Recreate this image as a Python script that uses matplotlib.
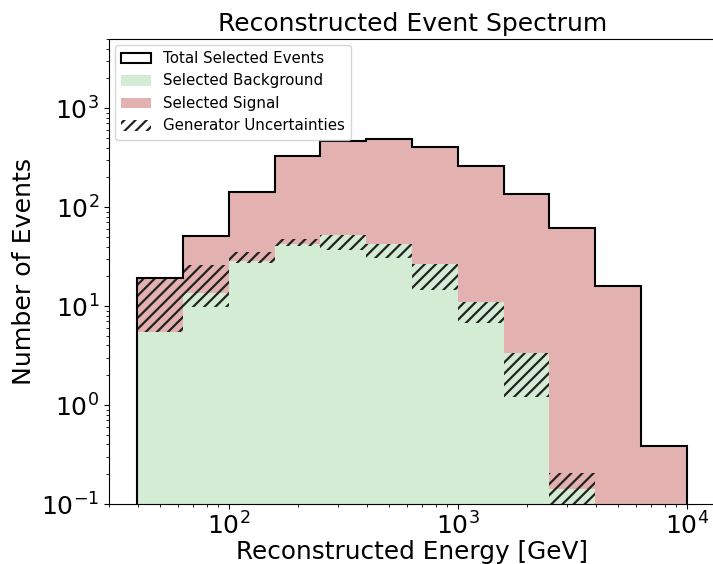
import numpy as np
import matplotlib
matplotlib.use("Agg")
import matplotlib.pyplot as plt
from matplotlib.patches import Patch

plt.rcParams["hatch.linewidth"] = 1.6

# bin edges: 5 log bins per decade from 10^1.6 to 10^4 GeV
edges = 10 ** np.arange(1.6, 4.01, 0.2)

total = [19.2, 51, 142, 327, 464, 483, 404, 261, 135, 61.8, 15.9, 0.385]
background = [5.5, 13.5, 28.7, 42.3, 52, 42, 26.4, 11.0, 3.33, 0.141, 0, 0]
unc_lo = [5.5, 9.8, 27, 40.4, 36.8, 30.5, 14.7, 6.7, 1.21, 0.07, 0, 0]
unc_hi = [19.2, 26, 35.4, 47.2, 52, 42, 26.4, 11.0, 3.33, 0.207, 0, 0]

signal = np.array(total) - np.array(background)

GREEN = "tab:green"
RED = "firebrick"

fig = plt.figure(figsize=(7.13, 5.64), dpi=100)
# axes runs just past the right edge of the canvas
ax = fig.add_axes([109 / 713, 60 / 564, 607 / 713, 465 / 564])

centers = np.sqrt(edges[:-1] * edges[1:])
widths = np.diff(edges)

# outline of all selected events first, fills sit on top of it
ax.hist(centers, bins=edges, weights=total, histtype="step",
        color="black", linewidth=1.5)
ax.hist(centers, bins=edges, weights=background, histtype="stepfilled",
        color=GREEN, alpha=0.2)
ax.hist(centers, bins=edges, weights=signal, bottom=background,
        histtype="stepfilled", color=RED, alpha=0.35)

# generator uncertainty band on the background
ax.bar(edges[:-1], np.array(unc_hi) - np.array(unc_lo), bottom=unc_lo,
       width=widths, align="edge", fill=False, hatch="///",
       edgecolor="#222222", linewidth=0)

ax.set_xscale("log")
ax.set_yscale("log")
ax.set_xlim(30, 30 * 10 ** (607 / 229))
ax.set_ylim(0.1, 5000)

ax.set_title("Reconstructed Event Spectrum", fontsize=18, pad=6)
ax.set_xlabel("Reconstructed Energy [GeV]", fontsize=17.8, labelpad=0)
ax.set_ylabel("Number of Events", fontsize=18.2)
ax.tick_params(axis="both", which="major", labelsize=18)
ax.tick_params(axis="x", which="major", pad=2.5)

handles = [
    Patch(facecolor="none", edgecolor="black", linewidth=1.5,
          label="Total Selected Events"),
    Patch(facecolor=GREEN, alpha=0.2, label="Selected Background"),
    Patch(facecolor=RED, alpha=0.35, label="Selected Signal"),
    Patch(fill=False, hatch="///", edgecolor="#222222", linewidth=0,
          label="Generator Uncertainties"),
]
ax.legend(handles=handles, loc="upper left", fontsize=10.8,
          borderaxespad=0.4)

fig.savefig("out.png", dpi=100)
